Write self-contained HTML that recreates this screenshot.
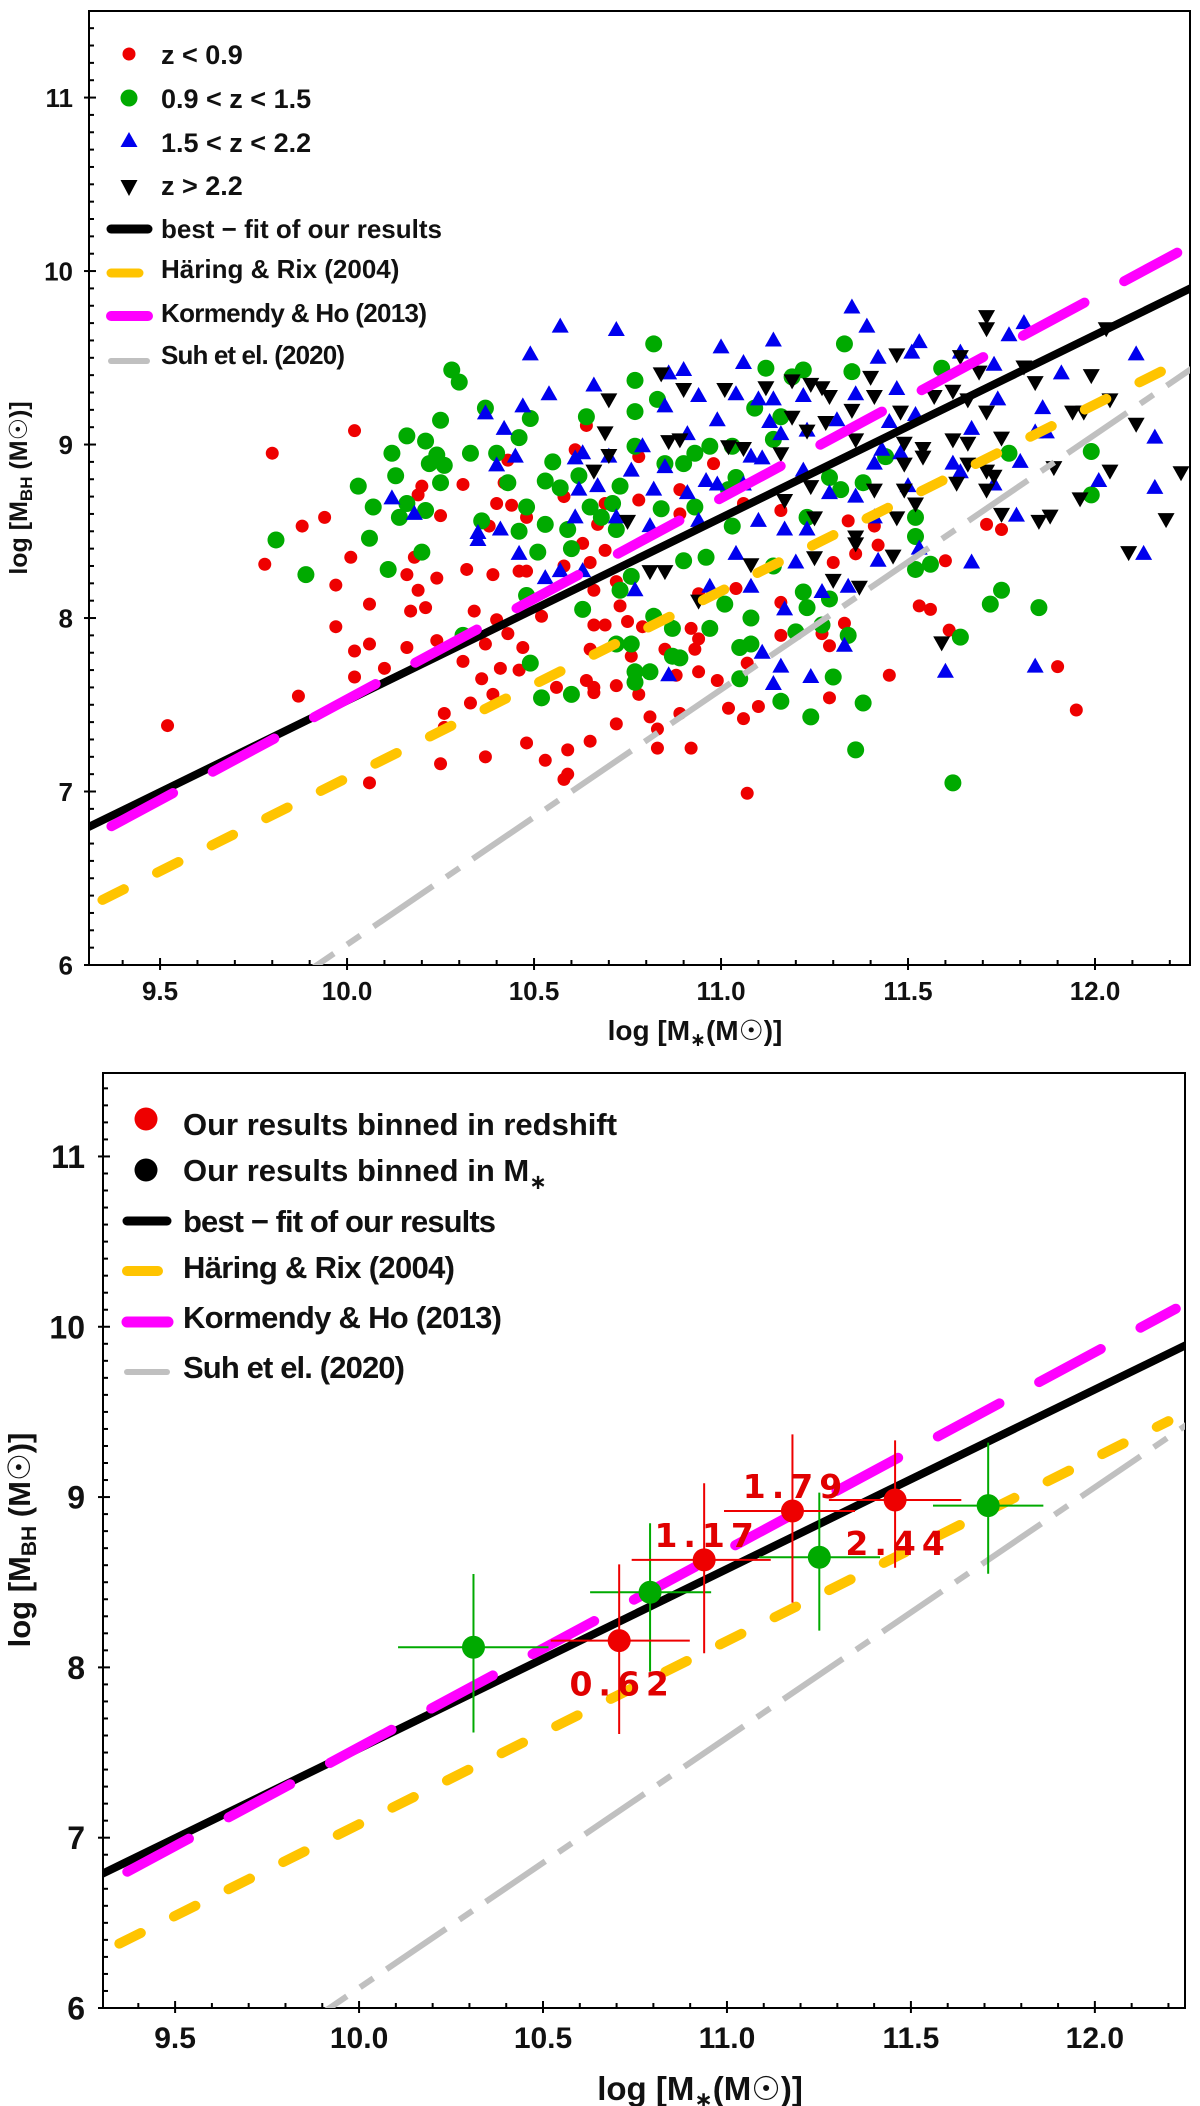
<!DOCTYPE html>
<html><head><meta charset="utf-8"><style>
html,body{margin:0;padding:0;background:#fff;}
svg{display:block;}
text{font-family:"Liberation Sans Narrow","Liberation Sans","DejaVu Sans",sans-serif;font-weight:bold;fill:#111;}
.num{font-family:"DejaVu Sans","Liberation Sans",sans-serif;font-weight:bold;fill:#e00000;}
</style></head><body>
<svg id="fig" width="1200" height="2106" viewBox="0 0 1200 2106" xmlns="http://www.w3.org/2000/svg">
<defs>
<clipPath id="clipTop"><rect x="89" y="11" width="1101" height="954"/></clipPath>
<clipPath id="clipBot"><rect x="103" y="1073" width="1082" height="935"/></clipPath>
</defs>
<g id="topPanel">
<rect x="89" y="11" width="1101" height="954" fill="none" stroke="#000" stroke-width="2"/>
<g id="topPts" clip-path="url(#clipTop)"></g>
<g id="topLines" clip-path="url(#clipTop)"></g>
<g id="topAxes"></g>
<g>
<circle cx="129" cy="54" r="6.5" fill="#ee0000"/>
<text x="161" y="64" font-size="27">z &lt; 0.9</text>
<circle cx="129" cy="98" r="8.5" fill="#00aa00"/>
<text x="161" y="108" font-size="27">0.9 &lt; z &lt; 1.5</text>
<polygon points="129,132 120.5,147 137.5,147" fill="#0000ee"/>
<text x="161" y="152" font-size="27">1.5 &lt; z &lt; 2.2</text>
<polygon points="129,196 120.5,180 137.5,180" fill="#000"/>
<text x="161" y="195" font-size="27">z &gt; 2.2</text>
<line x1="111" y1="229" x2="148" y2="229" stroke="#000" stroke-width="9" stroke-linecap="round"/>
<text x="161" y="238" font-size="26">best − fit of our results</text>
<line x1="111" y1="273" x2="139" y2="273" stroke="#ffc400" stroke-width="9" stroke-linecap="round"/>
<text x="161" y="278" font-size="26">Häring &amp; Rix (2004)</text>
<line x1="111" y1="316" x2="148" y2="316" stroke="#ff00ff" stroke-width="10" stroke-linecap="round"/>
<text x="161" y="322" font-size="26" textLength="266">Kormendy &amp; Ho (2013)</text>
<line x1="111" y1="361" x2="147" y2="361" stroke="#c0c0c0" stroke-width="6" stroke-linecap="round"/>
<text x="161" y="364" font-size="26" textLength="184">Suh et el. (2020)</text>
</g>
<text x="695" y="1040" font-size="28" text-anchor="middle">log [M<tspan font-size="19" dy="6">∗</tspan><tspan dy="-6">(M☉)]</tspan></text>
<text transform="translate(27,488) rotate(-90)" font-size="25" text-anchor="middle">log [M<tspan font-size="17" dy="5">BH</tspan><tspan dy="-5"> (M☉)]</tspan></text>
</g>

<g id="botPanel">
<rect x="103" y="1073" width="1082" height="935" fill="none" stroke="#000" stroke-width="2"/>
<g id="botLines" clip-path="url(#clipBot)"></g>
<g id="botPts" clip-path="url(#clipBot)"></g>
<g id="botAxes"></g>
<g>
<circle cx="146" cy="1119" r="11.5" fill="#ee0000"/>
<text x="183" y="1135" font-size="31">Our results binned in redshift</text>
<circle cx="146" cy="1170" r="11.5" fill="#000"/>
<text x="183" y="1181" font-size="31">Our results binned in M<tspan font-size="21" dy="8">∗</tspan></text>
<line x1="127" y1="1221" x2="167" y2="1221" stroke="#000" stroke-width="9" stroke-linecap="round"/>
<text x="183" y="1232" font-size="31" textLength="313">best − fit of our results</text>
<line x1="127" y1="1271" x2="158" y2="1271" stroke="#ffc400" stroke-width="10" stroke-linecap="round"/>
<text x="183" y="1278" font-size="31" textLength="272">Häring &amp; Rix (2004)</text>
<line x1="127" y1="1322" x2="168" y2="1322" stroke="#ff00ff" stroke-width="11" stroke-linecap="round"/>
<text x="183" y="1328" font-size="31" textLength="319">Kormendy &amp; Ho (2013)</text>
<line x1="127" y1="1372" x2="167" y2="1372" stroke="#c0c0c0" stroke-width="6" stroke-linecap="round"/>
<text x="183" y="1378" font-size="31" textLength="222">Suh et el. (2020)</text>
</g>
<text x="700" y="2100" font-size="33" text-anchor="middle">log [M<tspan font-size="22" dy="7">∗</tspan><tspan dy="-7">(M☉)]</tspan></text>
<text transform="translate(30,1540) rotate(-90)" font-size="31" text-anchor="middle">log [M<tspan font-size="21" dy="6">BH</tspan><tspan dy="-6"> (M☉)]</tspan></text>
</g>
</svg>
<script>
// ---------- data: top scatter ----------
var redX=[10.02,9.80,9.94,9.88,10.20,10.19,10.31,10.25,10.40,10.44,10.42,10.43,10.61,10.64,10.78,10.69,10.67,10.48,10.38,10.78,10.58,
11.71,11.75,10.89,10.89,10.98,11.06,11.34,11.41,11.16,
9.52,9.78,9.87,9.97,9.97,10.01,10.06,10.02,10.06,10.02,10.10,10.16,10.19,10.17,10.21,10.16,10.24,10.24,10.18,10.32,10.39,10.34,10.31,10.36,10.41,10.40,10.37,10.43,10.47,10.46,10.39,10.33,10.26,10.26,10.46,10.48,10.52,10.58,10.65,10.69,10.66,10.72,10.73,10.66,10.69,10.75,10.79,10.65,10.76,10.85,10.56,10.64,10.66,10.72,10.78,10.66,10.72,10.81,10.83,10.48,10.59,10.65,10.53,10.83,10.37,10.25,10.06,10.59,10.58,10.60,10.63,
11.36,11.42,11.30,11.60,11.04,11.16,10.92,10.94,10.93,11.16,11.29,11.33,11.27,11.07,10.88,10.94,10.99,11.45,11.53,11.56,11.61,11.90,11.95,10.89,11.02,11.06,11.10,11.29,10.92,11.07,10.94];
var redY=[9.08,8.95,8.58,8.53,8.76,8.71,8.77,8.59,8.66,8.65,8.78,8.91,8.97,9.11,8.68,8.66,8.54,8.58,8.53,8.93,8.70,
8.54,8.51,8.74,8.60,8.89,8.66,8.56,8.53,8.62,
7.38,8.31,7.55,8.19,7.95,8.35,8.08,7.81,7.85,7.66,7.71,8.25,8.16,8.04,8.06,7.83,8.23,7.87,8.35,8.28,8.25,8.04,7.75,7.65,7.71,7.99,7.85,7.91,7.83,7.70,7.56,7.51,7.45,7.37,8.27,8.27,8.01,8.30,8.32,8.39,8.16,8.21,8.07,7.96,7.96,7.98,7.95,7.82,7.78,7.82,7.60,7.64,7.60,7.61,7.56,7.57,7.39,7.43,7.36,7.28,7.24,7.29,7.18,7.25,7.20,7.16,7.05,7.10,7.07,8.41,8.43,
8.37,8.42,8.32,8.33,8.17,8.09,7.94,7.88,7.82,7.90,7.84,7.97,7.91,7.74,7.67,7.69,7.64,7.67,8.07,8.05,7.93,7.72,7.47,7.45,7.48,7.42,7.49,7.54,7.25,6.99,8.14];
var greenX=[10.28,10.30,10.37,10.25,10.16,10.21,10.12,10.24,10.22,10.26,10.33,10.40,10.49,10.46,10.13,10.03,10.07,10.16,10.21,10.14,10.25,10.43,10.55,10.53,10.57,10.62,10.48,10.36,10.46,10.53,10.59,10.64,10.77,10.77,10.82,10.83,10.77,10.73,10.65,10.71,10.68,10.72,10.84,9.81,10.06,10.85,
11.33,11.12,11.35,11.59,11.22,11.19,11.09,11.16,11.14,10.97,10.93,10.90,11.03,11.04,11.02,10.93,11.03,11.32,11.38,11.29,11.77,11.99,11.99,11.52,11.52,11.23,11.44,
9.89,10.11,10.20,10.51,10.60,10.48,10.63,10.73,10.76,10.82,10.72,10.76,10.49,10.52,10.60,10.77,10.81,10.77,10.87,10.87,10.31,
10.96,10.90,11.01,11.08,10.97,10.89,11.05,11.08,11.22,11.23,11.29,11.27,11.20,11.34,11.52,11.56,11.75,11.72,11.85,11.64,11.05,11.30,11.16,11.24,11.38,11.36,11.62,11.14];
var greenY=[9.43,9.36,9.21,9.14,9.05,9.02,8.95,8.94,8.89,8.88,8.95,8.95,9.15,9.04,8.82,8.76,8.64,8.66,8.62,8.58,8.78,8.78,8.90,8.79,8.75,8.82,8.64,8.56,8.50,8.54,8.51,9.16,9.37,9.19,9.58,9.26,8.99,8.76,8.64,8.66,8.58,8.51,8.63,8.45,8.46,8.89,
9.58,9.44,9.42,9.44,9.43,9.39,9.21,9.16,9.03,8.99,8.95,8.89,8.99,8.81,8.74,8.64,8.53,8.74,8.78,8.81,8.95,8.96,8.71,8.58,8.47,8.58,8.93,
8.25,8.28,8.38,8.38,8.40,8.13,8.05,8.16,8.24,8.01,7.85,7.85,7.74,7.54,7.56,7.69,7.69,7.63,7.78,7.94,7.90,
8.35,8.33,8.08,8.00,7.94,7.77,7.83,7.85,8.15,8.06,8.11,7.96,7.92,7.90,8.28,8.31,8.16,8.08,8.06,7.89,7.65,7.66,7.52,7.43,7.51,7.24,7.05,8.30];
var blueX=[10.57,10.72,10.49,10.66,10.54,10.47,10.37,10.42,10.45,10.40,10.61,10.63,10.79,10.76,10.70,10.85,10.85,10.86,10.62,10.67,10.82,10.12,10.18,10.61,10.41,10.35,10.72,10.81,
11.35,11.39,11.00,11.14,11.06,10.90,11.42,11.51,11.53,11.81,11.77,11.64,11.73,11.91,12.11,10.94,11.04,11.10,11.14,11.22,11.36,11.47,10.99,10.91,11.13,11.16,11.23,11.31,11.45,11.52,11.74,11.86,11.84,11.87,11.67,12.16,11.80,12.01,12.16,11.08,11.11,10.96,10.99,10.91,11.06,11.22,11.29,11.36,11.41,11.43,11.48,11.62,11.64,11.73,11.79,10.94,11.10,11.17,11.23,11.41,11.50,
10.46,10.53,10.57,10.63,10.77,10.86,10.35,
11.04,11.08,10.97,11.17,11.27,11.34,11.42,11.67,11.53,11.11,11.16,11.14,11.24,11.33,11.60,11.84,12.13,11.20];
var blueY=[9.68,9.66,9.52,9.34,9.29,9.22,9.18,9.09,8.93,8.88,8.92,8.95,8.99,8.85,8.93,8.87,9.22,9.41,8.74,8.76,8.74,8.69,8.60,8.58,8.51,8.49,8.58,8.53,
9.79,9.68,9.56,9.60,9.47,9.43,9.50,9.53,9.59,9.70,9.63,9.53,9.46,9.41,9.52,9.28,9.29,9.26,9.26,9.28,9.29,9.32,9.14,9.06,9.13,9.06,9.08,9.14,9.13,9.17,9.26,9.21,9.07,9.07,9.09,9.04,8.90,8.79,8.75,8.93,8.92,8.79,8.77,8.72,8.77,8.85,8.72,8.70,8.89,8.97,8.95,8.89,8.84,8.77,8.59,8.56,8.56,8.51,8.51,8.58,8.76,
8.37,8.23,8.27,8.27,8.16,7.67,8.45,
8.37,8.18,8.18,8.05,8.15,8.18,8.33,8.32,8.40,7.80,7.72,7.62,7.66,7.84,7.69,7.72,8.37,8.32];
var blackX=[10.84,10.70,10.69,10.70,10.66,10.75,10.86,
11.71,11.71,12.03,11.81,11.84,11.99,12.04,11.94,11.97,12.11,12.04,12.23,11.96,12.19,11.85,11.88,11.75,10.90,11.01,11.12,11.19,11.24,11.27,11.29,11.40,11.47,11.41,11.35,11.48,11.19,11.23,11.28,11.02,11.06,11.16,11.36,11.49,11.54,11.57,11.64,11.69,11.62,11.66,11.71,11.62,11.66,11.75,11.54,11.66,11.71,11.73,11.63,11.71,11.49,11.52,11.41,11.47,11.24,11.17,11.25,11.36,11.49,10.89,11.89,
10.81,10.85,
11.08,11.25,11.46,11.30,11.37,10.94,12.09,11.59,11.36];
var blackY=[9.41,9.26,9.07,8.94,8.85,8.56,9.02,
9.74,9.67,9.67,9.45,9.36,9.40,9.26,9.19,9.19,9.12,8.85,8.84,8.69,8.57,8.56,8.59,8.60,9.32,9.32,9.33,9.37,9.35,9.33,9.28,9.39,9.52,9.28,9.20,9.19,9.16,9.08,9.13,8.99,8.98,8.95,9.03,9.01,8.98,9.28,9.51,9.42,9.31,9.26,9.19,9.03,9.01,9.04,8.93,8.89,8.85,8.82,8.78,8.74,8.74,8.66,8.74,8.58,8.76,8.68,8.58,8.47,8.89,9.03,8.87,
8.27,8.27,
8.31,8.35,8.36,8.22,8.18,8.10,8.38,7.86,8.43];

// ---------- data: bottom binned points ----------
var zBinX=[10.707,10.938,11.178,11.457];
var zBinY=[8.157,8.631,8.918,8.983];
var zBinXLo=[0.186,0.197,0.186,0.18];
var zBinXHi=[0.192,0.181,0.170,0.18];
var zBinYLo=[0.548,0.548,0.538,0.398];
var zBinYHi=[0.448,0.450,0.450,0.350];
var zBinLabels=['0.62','1.17','1.79','2.44'];
var zBinLabelAbove=[false,true,true,false];
var mBinX=[10.311,10.791,11.251,11.710];
var mBinY=[8.118,8.441,8.647,8.950];
var mBinXLo=[0.205,0.163,0.163,0.15];
var mBinXHi=[0.204,0.166,0.165,0.15];
var mBinYLo=[0.50,0.466,0.431,0.40];
var mBinYHi=[0.43,0.405,0.379,0.37];

// ---------- relations ----------
var bestFit={x0:9.304,y0:6.79,slope:1.054,xs:9.2,xe:12.4};
var haring={x0:9.304,y0:6.33,slope:1.076,xs:9.2,xe:12.2};
var kormendy={x0:9.37,y0:6.80,slope:1.16,xs:9.37,xe:12.22};
var suh={x0:9.92,y0:6.0,slope:1.47,xs:9.85,xe:12.4};

var xTicks=[9.5,10.0,10.5,11.0,11.5,12.0];
var yTicks=[6,7,8,9,10,11];

var NS='http://www.w3.org/2000/svg';
function mk(tag,attrs,parent){var e=document.createElementNS(NS,tag);for(var k in attrs)e.setAttribute(k,attrs[k]);parent.appendChild(e);return e;}
var P1={x0:89,x1:1190,y0:11,y1:965,xmin:9.310,xmax:12.254,ymin:6,ymax:11.499};
var P2={x0:103,x1:1185,y0:1073,y1:2008,xmin:9.304,xmax:12.245,ymin:6,ymax:11.49};
function sx(p,v){return p.x0+(v-p.xmin)/(p.xmax-p.xmin)*(p.x1-p.x0);}
function sy(p,v){return p.y1-(v-p.ymin)/(p.ymax-p.ymin)*(p.y1-p.y0);}

var gp=document.getElementById('topPts');
for(var i=0;i<redX.length;i++){
 var c=mk('circle',{cx:sx(P1,redX[i]),cy:sy(P1,redY[i]),r:6.5,fill:'#ee0000'},gp);
 
 
}
for(var i=0;i<greenX.length;i++){
 var c=mk('circle',{cx:sx(P1,greenX[i]),cy:sy(P1,greenY[i]),r:8.5,fill:'#00aa00'},gp);
 
 
}
for(var i=0;i<blueX.length;i++){
 var x=sx(P1,blueX[i]),y=sy(P1,blueY[i]);
 var t=mk('polygon',{points:x+','+(y-9)+' '+(x-8.5)+','+(y+6)+' '+(x+8.5)+','+(y+6),fill:'#0000ee'},gp);
 
 
}
for(var i=0;i<blackX.length;i++){
 var x=sx(P1,blackX[i]),y=sy(P1,blackY[i]);
 var t=mk('polygon',{points:x+','+(y+9)+' '+(x-8.5)+','+(y-6)+' '+(x+8.5)+','+(y-6),fill:'#000'},gp);
 
 
}

function drawRel(p,g,rel,style,name){
 var l=mk('line',{x1:sx(p,rel.xs),y1:sy(p,rel.y0+rel.slope*(rel.xs-rel.x0)),x2:sx(p,rel.xe),y2:sy(p,rel.y0+rel.slope*(rel.xe-rel.x0))},g);
 for(var k in style)l.setAttribute(k,style[k]);
 
 
}
function drawAllRel(p,g){
 drawRel(p,g,suh,{stroke:'#c0c0c0','stroke-width':6,'stroke-dasharray':'72 16 16 16','stroke-dashoffset':'20'},'suh-2020-line');
 drawRel(p,g,haring,{stroke:'#ffc400','stroke-width':10,'stroke-linecap':'round','stroke-dasharray':'24 37'},'haring-rix-2004-line');
 drawRel(p,g,bestFit,{stroke:'#000','stroke-width':8},'best-fit-line');
 drawRel(p,g,kormendy,{stroke:'#ff00ff','stroke-width':10,'stroke-linecap':'round','stroke-dasharray':'70 45'},'kormendy-ho-2013-line');
}
drawAllRel(P1,document.getElementById('topLines'));
drawAllRel(P2,document.getElementById('botLines'));

var bp=document.getElementById('botPts');
function errPt(x,y,xlo,xhi,ylo,yhi,col,name){
 var h=mk('line',{x1:sx(P2,x-xlo),x2:sx(P2,x+xhi),y1:sy(P2,y),y2:sy(P2,y),stroke:col,'stroke-width':2},bp);
 
 
 var v=mk('line',{x1:sx(P2,x),x2:sx(P2,x),y1:sy(P2,y-ylo),y2:sy(P2,y+yhi),stroke:col,'stroke-width':2},bp);
 
 
 var c=mk('circle',{cx:sx(P2,x),cy:sy(P2,y),r:11.5,fill:col},bp);
 
 
}
for(var i=0;i<mBinX.length;i++)errPt(mBinX[i],mBinY[i],mBinXLo[i],mBinXHi[i],mBinYLo[i],mBinYHi[i],'#00aa00','mass-bin-point');
for(var i=0;i<zBinX.length;i++)errPt(zBinX[i],zBinY[i],zBinXLo[i],zBinXHi[i],zBinYLo[i],zBinYHi[i],'#ee0000','redshift-bin-point');
for(var i=0;i<zBinX.length;i++){
 var tx=mk('text',{x:sx(P2,zBinX[i])+3,y:sy(P2,zBinY[i])+(zBinLabelAbove[i]?-13:55),'text-anchor':'middle','font-size':33,'letter-spacing':'6',class:'num'},bp);
 tx.textContent=zBinLabels[i];
 
 
}

function axes(p,g,fs,fsx,ylabX,xlabY){
 for(var v=Math.ceil(p.xmin*10);v<=Math.floor(p.xmax*10);v++){
  var x=sx(p,v/10),major=(v%5===0);
  var t=mk('line',{x1:x,x2:x,y1:p.y1-(major?7:5),y2:p.y1+(major?5:0),stroke:'#000','stroke-width':2},g);
  
  
 }
 for(var v=Math.ceil(p.ymin*10);v<=Math.floor(p.ymax*10);v++){
  var y=sy(p,v/10),major=(v%10===0);
  var t=mk('line',{x1:p.x0-(major?5:0),x2:p.x0+(major?7:5),y1:y,y2:y,stroke:'#000','stroke-width':2},g);
  
  
 }
 for(var i=0;i<xTicks.length;i++){
  var tx=mk('text',{x:sx(p,xTicks[i]),y:xlabY,'text-anchor':'middle','font-size':fsx},g);
  tx.textContent=xTicks[i].toFixed(1);
  
  
 }
 for(var i=0;i<yTicks.length;i++){
  var tx=mk('text',{x:ylabX,y:sy(p,yTicks[i])+fs*0.36,'text-anchor':'end','font-size':fs},g);
  tx.textContent=String(yTicks[i]);
  
  
 }
}
axes(P1,document.getElementById('topAxes'),26,26,73,1000);
axes(P2,document.getElementById('botAxes'),32,30,85,2048);
</script>
</body></html>
